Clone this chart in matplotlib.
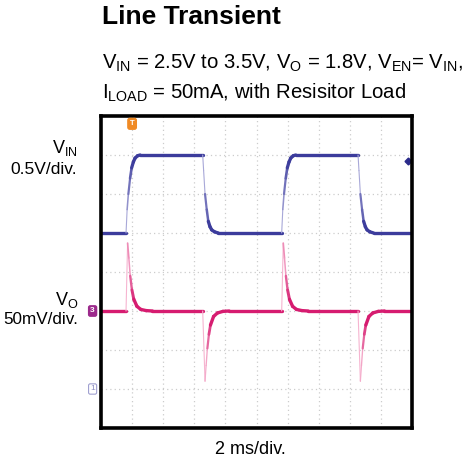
import numpy as np
import matplotlib.pyplot as plt
from matplotlib.collections import LineCollection
from matplotlib.colors import to_rgb

plt.rcParams['font.family'] = ['Liberation Sans', 'DejaVu Sans']
plt.rcParams['mathtext.fontset'] = 'custom'
plt.rcParams['mathtext.rm'] = 'Liberation Sans'

# time in ms (2 ms/div, 10 div)
t_vin = [0.0, 1.61, 1.68, 1.76, 1.87, 1.97, 2.08, 2.19, 2.35, 2.51,
         6.54, 6.60, 6.69, 6.80, 6.90, 7.01, 7.12, 7.30, 7.54,
         11.62, 11.69, 11.77, 11.88, 11.98, 12.09, 12.20, 12.36, 12.52,
         16.53, 16.59, 16.68, 16.79, 16.89, 17.00, 17.11, 17.29, 17.53, 20.0]
v_in = [2.5, 2.5, 2.80, 3.00, 3.20, 3.335, 3.41, 3.46, 3.49, 3.5,
        3.5, 3.30, 3.00, 2.80, 2.65, 2.58, 2.54, 2.515, 2.5,
        2.5, 2.80, 3.00, 3.20, 3.335, 3.41, 3.46, 3.49, 3.5,
        3.5, 3.30, 3.00, 2.80, 2.65, 2.58, 2.54, 2.515, 2.5, 2.5]

t_vo = [0.0, 1.61, 1.71, 1.79, 1.88, 1.99, 2.11, 2.31, 2.56, 2.91, 3.31,
        6.54, 6.69, 6.76, 6.84, 6.94, 7.04, 7.24, 7.49, 7.84, 8.24,
        11.62, 11.72, 11.80, 11.89, 12.00, 12.12, 12.32, 12.57, 12.92, 13.32,
        16.53, 16.68, 16.75, 16.83, 16.93, 17.03, 17.23, 17.48, 17.83, 18.23, 20.0]
vo_mv = [0, 0, 87, 68, 45, 27, 15, 6, 2, 0.5, 0,
         0, -90, -70, -48, -30, -18, -7, -2.5, -0.5, 0,
         0, 87, 68, 45, 27, 15, 6, 2, 0.5, 0,
         0, -90, -70, -48, -30, -18, -7, -2.5, -0.5, 0, 0]

trig_t = 2.0        # ms
trig_level = 3.42   # V

# channel settings: volts/div and the screen division of the reference level
vin_scale, vin_ref, vin_pos = 0.5, 2.5, 5
vo_scale, vo_pos = 50, 3


def trace(ax, x, y, dark, light, lw=2.4):
    x = np.asarray(x, float)
    y = np.asarray(y, float)
    pts = np.column_stack([x, y]).reshape(-1, 1, 2)
    segs = np.concatenate([pts[:-1], pts[1:]], axis=1)
    # steep (fast) parts of the trace show up faint on the scope
    dx = np.diff(x) * 15.55
    dy = np.diff(y) * 39.0
    slope = np.abs(dy) / np.maximum(dx, 1e-6)
    frac = np.clip((slope - 3) / 12, 0, 1)
    c0, c1 = np.array(to_rgb(dark)), np.array(to_rgb(light))
    cols = [tuple(c0 * (1 - f) + c1 * f) for f in frac]
    widths = lw * (1 - frac) + 0.8 * frac
    ax.add_collection(LineCollection(segs, colors=cols, linewidths=widths,
                                     capstyle='round', joinstyle='round'))


fig = plt.figure(figsize=(4.73, 4.62), dpi=100)
ax = fig.add_axes([101 / 473, 1 - 428 / 462, 311 / 473, 312 / 462])
ax.set_xlim(0, 20)
ax.set_ylim(0, 8)

for gx in np.arange(2, 20, 2):
    ax.axvline(gx, color='#cccccc', lw=0.9, ls=(0, (1, 2.5)), zorder=0)
for gy in range(1, 8):
    ax.axhline(gy, color='#cccccc', lw=0.9, ls=(0, (1, 2.5)), zorder=0)

vin_div = vin_pos + (np.array(v_in) - vin_ref) / vin_scale
vo_div = vo_pos + np.array(vo_mv) / vo_scale
trace(ax, t_vin, vin_div, '#3c3c9c', '#a8a8d8')
trace(ax, t_vo, vo_div, '#d61c70', '#f6b4d0')

ax.set_xticks([])
ax.set_yticks([])
for s in ax.spines.values():
    s.set_linewidth(2.6)
    s.set_color('black')

# scope markers
ax.text(trig_t, 0.975, 'T', transform=ax.get_xaxis_transform(), color='white',
        fontsize=5.5, fontweight='bold', ha='center', va='center', clip_on=False,
        bbox=dict(boxstyle='round,pad=0.25', fc='#f08a24', ec='#f08a24'))
ax.plot([19.75], [vin_pos + (trig_level - vin_ref) / vin_scale], marker='D',
        ms=3.5, color='#2a2a8a', clip_on=False)
ax.text(-0.027, vo_pos, '3', transform=ax.get_yaxis_transform(), color='white',
        fontsize=6, fontweight='bold', ha='center', va='center', clip_on=False,
        bbox=dict(boxstyle='round,pad=0.2', fc='#9c2a8c', ec='#9c2a8c'))
ax.text(-0.027, 1, '1', transform=ax.get_yaxis_transform(), color='#8a8ac0',
        fontsize=6, ha='center', va='center', clip_on=False,
        bbox=dict(boxstyle='round,pad=0.2', fc='white', ec='#a0a0d0', lw=0.8))

W, H = 473, 462


def ftext(x, y, s, **kw):
    fig.text(x / W, 1 - y / H, s, va='baseline', **kw)


ftext(102, 24, 'Line Transient', fontsize=19, fontweight='bold')
ftext(102, 69, r'V$_{\mathrm{IN}}$ = 2.5V to 3.5V, V$_{\mathrm{O}}$ = 1.8V, '
      r'V$_{\mathrm{EN}}$= V$_{\mathrm{IN}}$,', fontsize=14.6)
ftext(102, 99, r'I$_{\mathrm{LOAD}}$ = 50mA, with Resisitor Load', fontsize=14.6)
ftext(78, 153, r'V$_{\mathrm{IN}}$', fontsize=13, ha='right')
ftext(77, 174, '0.5V/div.', fontsize=12.5, ha='right')
ftext(78, 305, r'V$_{\mathrm{O}}$', fontsize=13, ha='right')
ftext(78, 324, '50mV/div.', fontsize=12.3, ha='right')
ftext(250, 454, '2 ms/div.', fontsize=13, ha='center')

fig.savefig('out.png', dpi=100)
